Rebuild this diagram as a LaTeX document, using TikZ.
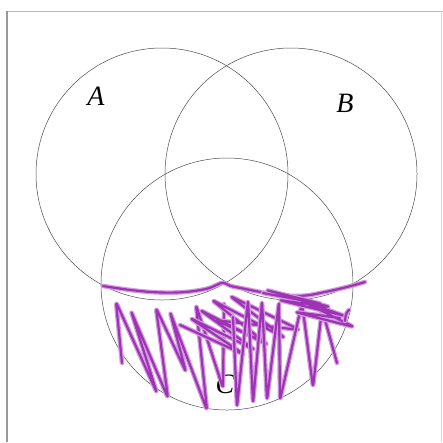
\documentclass[tikz,border=0pt]{standalone}
\usepackage{fontspec}
\setmainfont{Liberation Serif}
\usetikzlibrary{positioning}
\definecolor{scribpurple}{HTML}{9C34B4}
\definecolor{scribhalo}{HTML}{D49BE0}
\definecolor{framegray}{HTML}{9A9A9A}
\tikzset{
  venn style/.style={circle, draw=black!70, line width=0.5pt, minimum size=252pt, inner sep=0pt},
  lbl style/.style={font=\fontsize{28}{30}\selectfont\itshape, inner sep=0pt},
  scrib style/.style={draw=scribpurple, line width=2.2pt, line join=round, line cap=round,
    rounded corners=3pt,
    preaction={draw=scribhalo, line width=4.6pt, line join=round, line cap=round}}
}

\begin{document}
\begin{tikzpicture}[x=1pt, y=-1pt]
\useasboundingbox (0,0) rectangle (443,442);
% frame
\draw[framegray!70, line width=1pt] (7,11) -- (443,11);
\draw[framegray, line width=2.5pt] (7,11) -- (7,442);
\draw[framegray!40, line width=0.6pt] (441,11) -- (441,442);
% the three sets
\node[venn style] (setA) at (162,174) {};
\node[venn style] (setB) at (291,174) {};
\node[venn style] (setC) at (227,284) {};
\node[lbl style] (lblA) at (96,96)  {A};
\node[lbl style] (lblB) at (345,103) {B};
\node[lbl style] (lblC) at (225,384) {C};
% scribbles
\draw[scrib style] (103,286) .. controls (140,292) and (175,296) .. (210,288)
  -- (223,282) -- (230,286) .. controls (262,292) and (290,300) .. (320,293)
  .. controls (340,289) and (355,285) .. (365,282);
\draw[scrib style] (122,363) -- (116,302) -- (157,393) -- (131,311) -- (168,398)
  -- (156,308) -- (186,372) -- (170,312) -- (207,410) -- (196,305) -- (223,388) -- (224,304);
\draw[scrib style] (180,325) -- (245,355) -- (190,318) -- (255,350) -- (200,310)
  -- (268,345) -- (212,300) -- (285,338) -- (230,296) -- (300,330) -- (215,320) -- (260,340);
\draw[scrib style] (233,317) -- (237,407) -- (248,300) -- (253,403) -- (262,301)
  -- (267,400) -- (279,302) -- (280,400) -- (302,303) -- (313,387) -- (322,309) -- (337,363);
\draw[scrib style] (263,293) -- (322,304) -- (266,290) -- (330,307) -- (279,300)
  -- (345,316) -- (300,300) -- (354,327) -- (295,312) -- (340,318);
\draw[scrib style] (345,321) -- (346,313) -- (349,310);
\end{tikzpicture}
\end{document}
